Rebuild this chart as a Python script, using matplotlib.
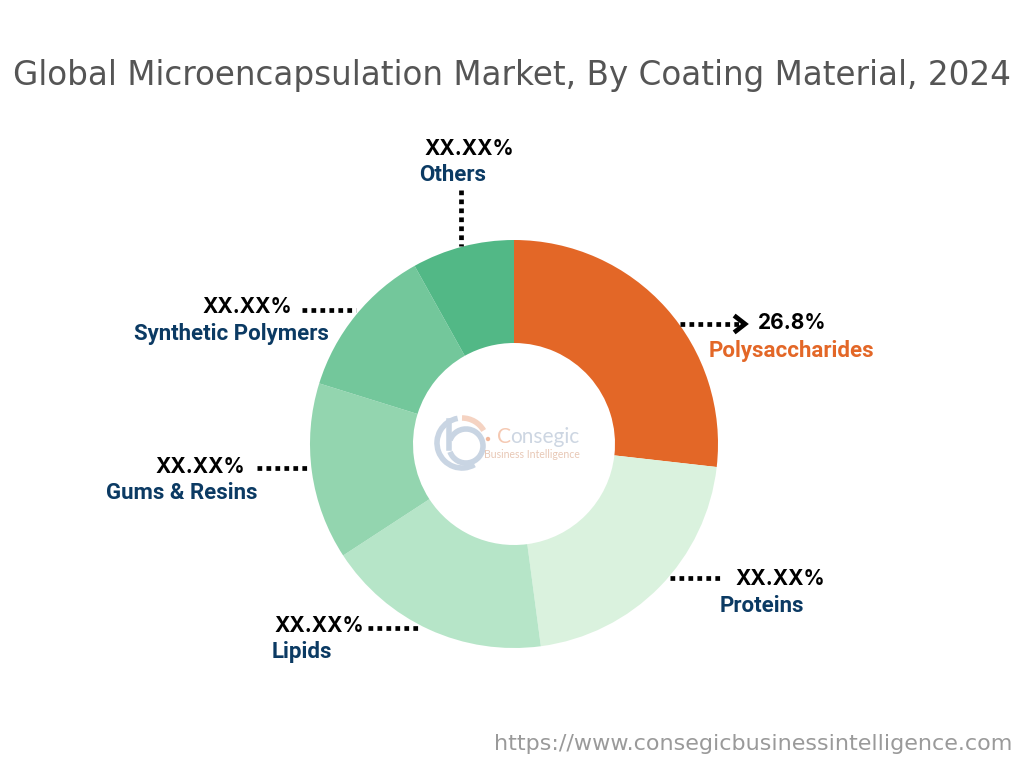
import matplotlib
matplotlib.use("Agg")
import matplotlib.pyplot as plt
from matplotlib.patches import Arc, Circle

# data (clockwise from 12 o'clock)
segments = ["Polysaccharides", "Proteins", "Lipids", "Gums & Resins",
            "Synthetic Polymers", "Others"]
shares = [26.8, 21.1, 17.9, 14.0, 12.1, 8.1]
value_labels = ["26.8%", "XX.XX%", "XX.XX%", "XX.XX%", "XX.XX%", "XX.XX%"]
colors = ["#E36727", "#DAF2DE", "#B6E5C8", "#93D5AF", "#73C79B", "#52B886"]

NAVY = "#0B3A63"
H = 768

fig = plt.figure(figsize=(10.24, 7.68), dpi=100)
ax = fig.add_axes([0, 0, 1, 1])

cx, cy, r = 514, H - 444, 204
ax.pie(shares, colors=colors, startangle=90, counterclock=False,
       center=(cx, cy), radius=r, frame=True,
       wedgeprops=dict(width=103, edgecolor="none"))
ax.set_xlim(0, 1024)
ax.set_ylim(0, H)
ax.axis("off")

fig.text(0.5, 1 - 76 / H, "Global Microencapsulation Market, By Coating Material, 2024",
         ha="center", va="center", fontsize=23.5, color="#555555", family="DejaVu Sans")


def y(p):
    return H - p


dot = dict(color="black", lw=3.4, linestyle=(0, (1, 0.9)),
           dash_capstyle="butt")
vfont = dict(fontsize=15, fontweight="bold", color="black", family="Inter", va="center")
lfont = dict(fontsize=16, fontweight="bold", family="Roboto", va="center")

# Polysaccharides (with arrow)
ax.plot([680, 742], [y(324), y(324)], **dot)
ax.plot([736, 745, 736], [y(317), y(324), y(331)], color="black", lw=3.4,
        solid_joinstyle="miter")
ax.text(758, y(323), value_labels[0], ha="left", **vfont)
ax.text(709, y(351), segments[0], ha="left", color="#E36727", **lfont)

# Proteins
ax.plot([670, 722], [y(578), y(578)], **dot)
ax.text(735, y(579), value_labels[1], ha="left", **vfont)
ax.text(720, y(606), segments[1], ha="left", color=NAVY, **lfont)

# Lipids
ax.plot([368, 421], [y(628), y(628)], **dot)
ax.text(274, y(626), value_labels[2], ha="left", **vfont)
ax.text(272, y(652), segments[2], ha="left", color=NAVY, **lfont)

# Gums & Resins
ax.plot([257, 309], [y(468), y(468)], **dot)
ax.text(245, y(467), value_labels[3], ha="right", **vfont)
ax.text(258, y(493), segments[3], ha="right", color=NAVY, **lfont)

# Synthetic Polymers
ax.plot([302, 356], [y(310), y(310)], **dot)
ax.text(292, y(307), value_labels[4], ha="right", **vfont)
ax.text(329, y(334), segments[4], ha="right", color=NAVY, **lfont)

# Others
ax.plot([461, 461], [y(190), y(246)], **dot)
ax.text(469, y(149), value_labels[5], ha="center", **vfont)
ax.text(453, y(175), segments[5], ha="center", color=NAVY, **lfont)

# faded logo in the hole
lx, ly = 462, y(443)
ax.add_patch(Arc((lx, ly), 50, 50, theta1=100, theta2=300, lw=4, color="#C9D5E3"))
ax.add_patch(Arc((lx + 4, ly - 3), 34, 34, theta1=200, theta2=520, lw=4, color="#C9D5E3"))
ax.add_patch(Arc((lx, ly), 50, 50, theta1=30, theta2=90, lw=4, color="#F5D3C2"))
ax.plot([lx - 13, lx - 13], [ly - 5, ly + 22], color="#C9D5E3", lw=4)
ax.add_patch(Circle((lx + 26, ly + 4), 2.2, color="#F2B89C", lw=0))
ax.text(497, y(437), "C", ha="left", va="center", fontsize=15, color="#F5C9B3",
        family="Lato")
ax.text(510, y(437), "onsegic", ha="left", va="center", fontsize=15, color="#CDD6E2",
        family="Lato")
ax.text(484, y(455), "Business Intelligence", ha="left", va="center", fontsize=7.6,
        color="#E8C8B6", family="Lato")

fig.text(1012 / 1024, 1 - 744 / H, "https://www.consegicbusinessintelligence.com",
         ha="right", va="center", fontsize=16, color="#9A9A9A", family="DejaVu Sans")

fig.savefig("out.png", dpi=100)
